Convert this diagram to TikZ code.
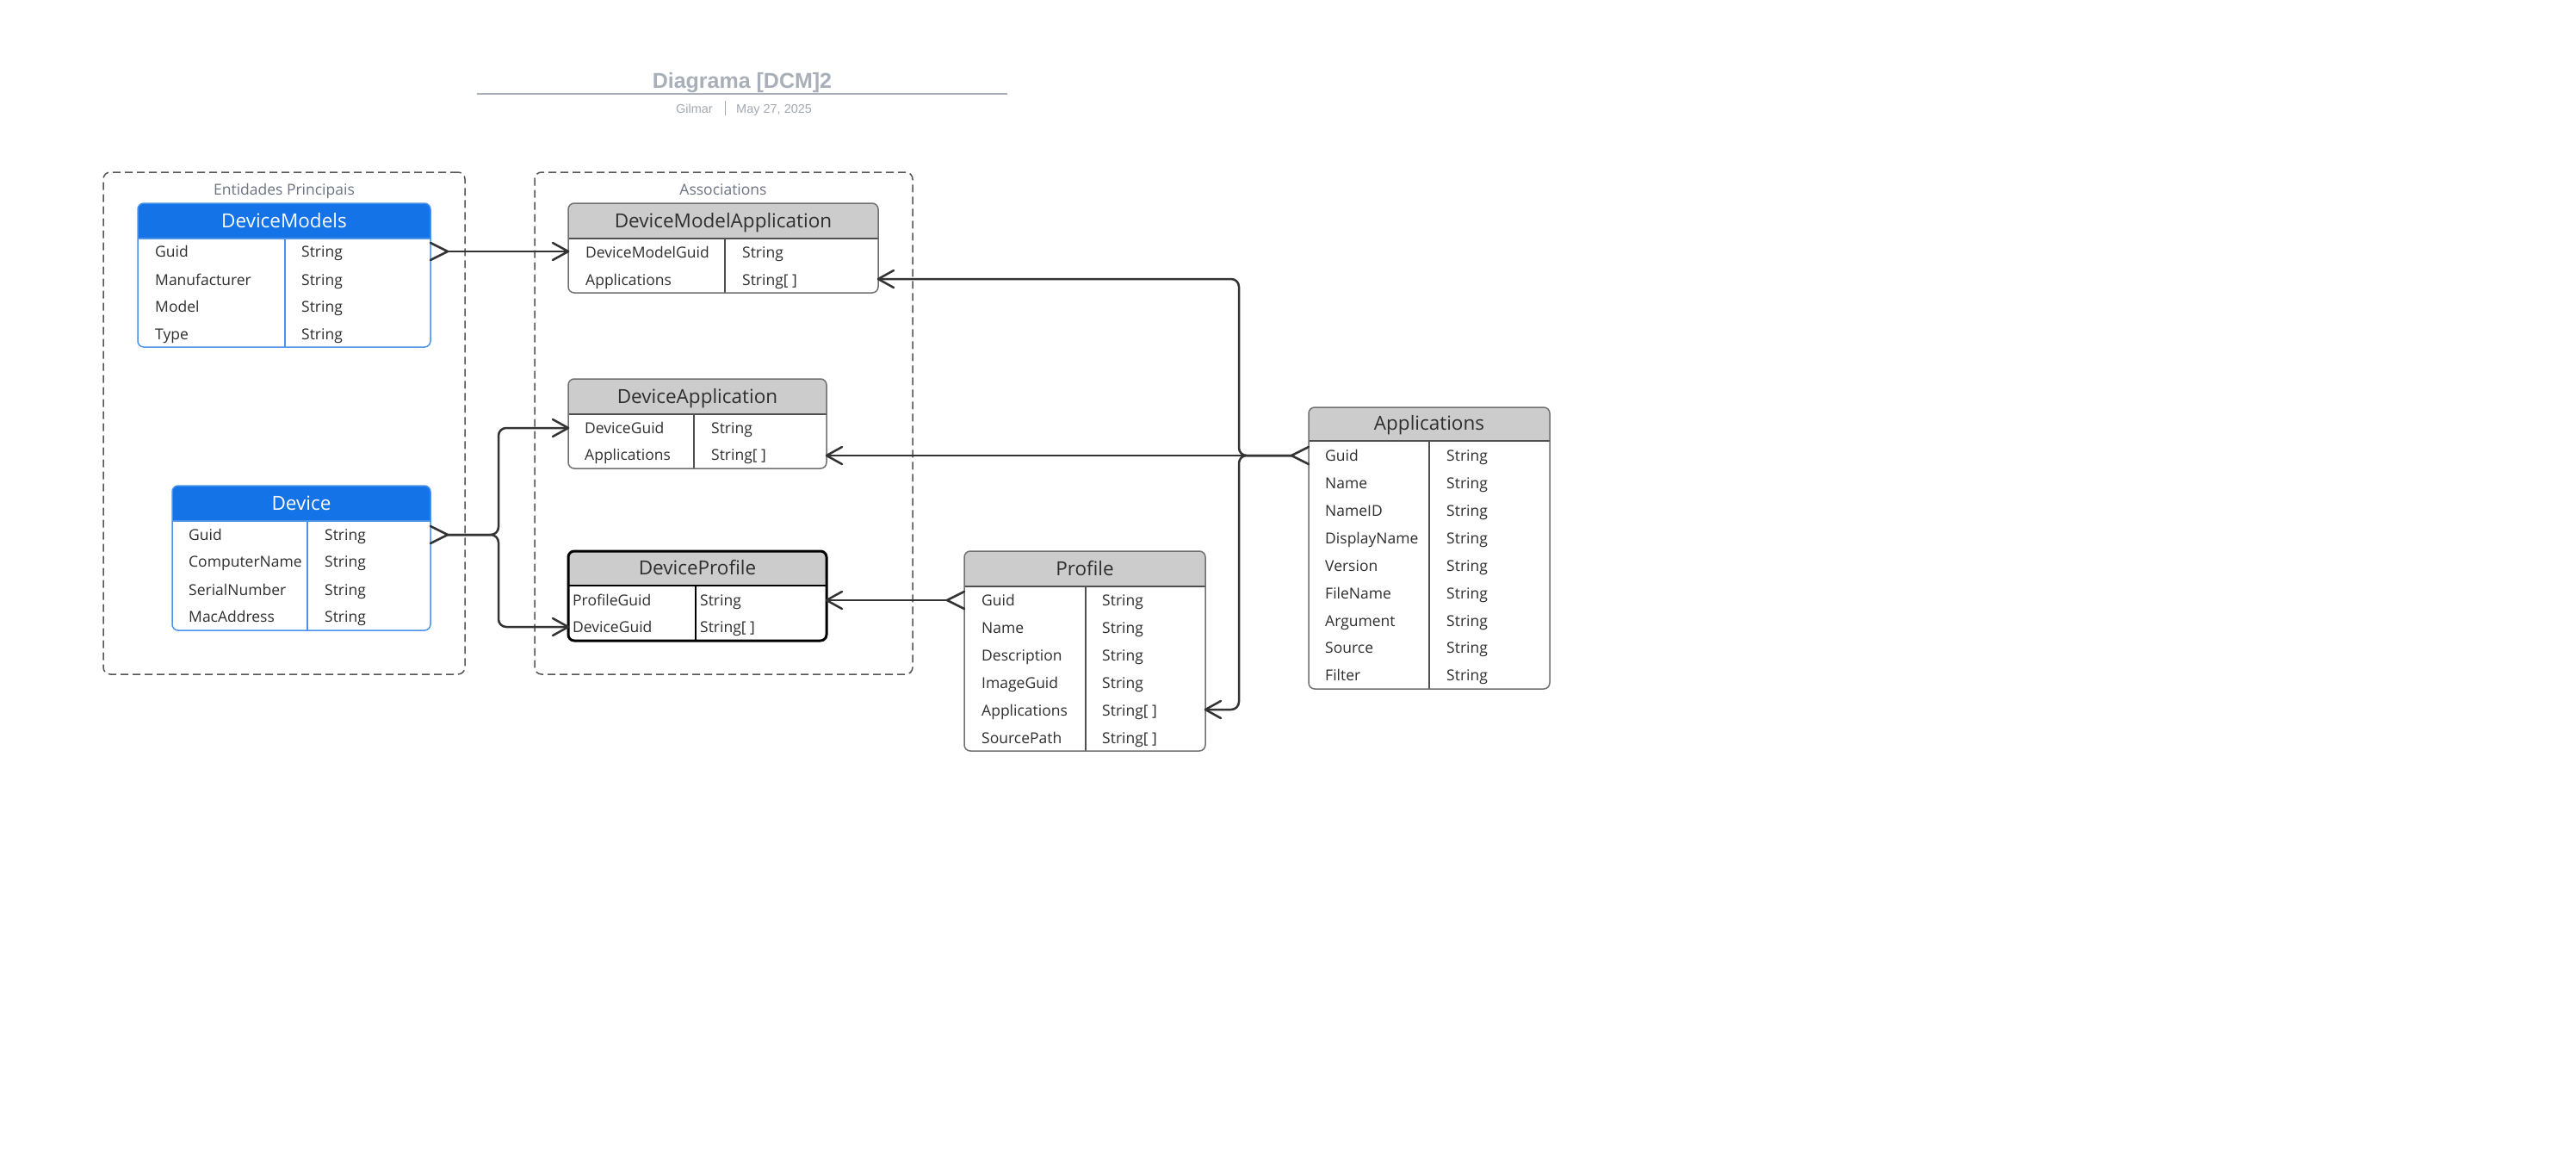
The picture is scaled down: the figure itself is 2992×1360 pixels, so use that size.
\documentclass[tikz,border=0pt]{standalone}
\usepackage{fontspec}
\setmainfont{Open Sans}
\newfontfamily\titlefont{Liberation Sans}
\usetikzlibrary{calc}

\definecolor{headblue}{HTML}{1473E6}
\definecolor{edgeblue}{HTML}{4A92EA}
\definecolor{headgray}{HTML}{CCCCCC}
\definecolor{edgegray}{HTML}{707070}
\definecolor{rulegray}{HTML}{505050}
\definecolor{inkdark}{HTML}{2E2E2E}
\definecolor{connc}{HTML}{333333}
\definecolor{framec}{HTML}{555555}
\definecolor{labelc}{HTML}{6B7280}
\definecolor{titlegray}{HTML}{A9AFB9}
\definecolor{subgray}{HTML}{A3A9B3}

% one entity table: header band, column rule, outline and title
% #1 name, #2 kind, #3 title, #4 left, #5 top, #6 right, #7 header bottom, #8 bottom, #9 column rule x
\newcommand\ertable[9]{%
  \begin{scope}
    \clip (#4,#5) rectangle (#6,#7);
    \fill[#2 head, rounded corners=7] (#4,#5) rectangle (#6,#8);
  \end{scope}
  \draw[#2 rule] (#4,#7) -- (#6,#7);
  \draw[#2 rule] (#9,#7) -- (#9,#8);
  \node[#2 border, rounded corners=7, inner sep=0, outer sep=0, anchor=north west,
        minimum width={#6-#4}, minimum height={#8-#5}] (#1) at (#4,#5) {};
  \node[headtext, #2 title, anchor=base] (#1-title) at ({(#4+#6)/2},{#7-12.5}) {#3};
}
% one attribute row: #1 name, #2 key x, #3 type x, #4 baseline, #5 key, #6 type
\newcommand\erfield[6]{%
  \node[fieldtext, anchor=base west] (#1-k) at (#2,#4) {#5};
  \node[fieldtext, anchor=base west] (#1-v) at (#3,#4) {#6};
}
% connector end marks
\newcommand\tipright[1]{\draw[conn] (#1) ++(-18,-10) -- ++(18,10) -- ++(-18,10);}
\newcommand\tipleft[1]{\draw[conn] (#1) ++(18,-10) -- ++(-18,10) -- ++(18,10);}
\newcommand\manyright[1]{\draw[conn] (#1) ++(0,-10) -- ++(20,10) -- ++(-20,10);}
\newcommand\manyleft[1]{\draw[conn] (#1) ++(0,-10) -- ++(-20,10) -- ++(20,10);}

\begin{document}
\begin{tikzpicture}[x=1pt,y=-1pt,
  blue head/.style={fill=headblue},
  blue rule/.style={draw=edgeblue, line width=1.5},
  blue border/.style={draw=edgeblue, line width=1.5},
  blue title/.style={text=white},
  gray head/.style={fill=headgray},
  gray rule/.style={draw=rulegray, line width=1.5},
  gray border/.style={draw=edgegray, line width=1.5},
  gray title/.style={text=inkdark},
  bold head/.style={fill=headgray},
  bold rule/.style={draw=black, line width=2.5},
  bold border/.style={draw=black, line width=3},
  bold title/.style={text=inkdark},
  headtext/.style={inner sep=0, font=\fontsize{22.5}{27}\selectfont},
  fieldtext/.style={inner sep=0, text=inkdark, font=\fontsize{17.5}{21}\selectfont},
  frame/.style={draw=framec, line width=1.5, dash pattern=on 9pt off 5pt, rounded corners=8,
                inner sep=0, outer sep=0, anchor=north west},
  grouplabel/.style={inner sep=0, anchor=base, text=labelc, font=\fontsize{17.5}{21}\selectfont},
  conn/.style={draw=connc, line width=2.5, line cap=round, line join=round},
]
\fill[white] (0,0) rectangle (2992,1360);
\useasboundingbox (0,0) rectangle (2992,1360);

% heading
\node[inner sep=0, anchor=base, text=titlegray, font=\titlefont\bfseries\fontsize{25}{30}\selectfont]
  (title) at (862,102) {Diagrama [DCM]2};
\draw[titlegray, line width=2] (554,109) -- (1170,109);
\node[inner sep=0, anchor=base east, text=subgray, font=\titlefont\fontsize{14.5}{17}\selectfont]
  (author) at (828,131) {Gilmar};
\draw[subgray, line width=1] (842,117) -- (842,134);
\node[inner sep=0, anchor=base west, text=subgray, font=\titlefont\fontsize{14.5}{17}\selectfont]
  (date) at (855,131) {May 27, 2025};

% groups
\node[frame, minimum width=420, minimum height=583] (grpMain) at (120,200) {};
\node[grouplabel] (grpMainLbl) at (330,226) {Entidades Principais};
\node[frame, minimum width=439, minimum height=583] (grpAssoc) at (621,200) {};
\node[grouplabel] (grpAssocLbl) at (840,226) {Associations};

% DeviceModels
\ertable{dm}{blue}{DeviceModels}{160}{236}{500}{277}{403}{331}
\erfield{dm1}{180}{350}{298}{Guid}{String}
\erfield{dm2}{180}{350}{331}{Manufacturer}{String}
\erfield{dm3}{180}{350}{362}{Model}{String}
\erfield{dm4}{180}{350}{394}{Type}{String}

% Device
\ertable{dev}{blue}{Device}{200}{564}{500}{605}{732}{357}
\erfield{dev1}{219}{377}{627}{Guid}{String}
\erfield{dev2}{219}{377}{658}{ComputerName}{String}
\erfield{dev3}{219}{377}{691}{SerialNumber}{String}
\erfield{dev4}{219}{377}{722}{MacAddress}{String}

% DeviceModelApplication
\ertable{dma}{gray}{DeviceModelApplication}{660}{236}{1020}{277}{340}{842}
\erfield{dma1}{680}{862}{299}{DeviceModelGuid}{String}
\erfield{dma2}{680}{862}{331}{Applications}{String[ ]}

% DeviceApplication
\ertable{da}{gray}{DeviceApplication}{660}{440}{960}{481}{544}{806}
\erfield{da1}{679}{826}{503}{DeviceGuid}{String}
\erfield{da2}{679}{826}{534}{Applications}{String[ ]}

% DeviceProfile
\ertable{dp}{bold}{DeviceProfile}{660}{640}{960}{680}{744}{808}
\erfield{dp1}{665}{813}{703}{ProfileGuid}{String}
\erfield{dp2}{665}{813}{734}{DeviceGuid}{String[ ]}

% Profile
\ertable{prof}{gray}{Profile}{1120}{640}{1400}{681}{872}{1261}
\erfield{pr1}{1140}{1280}{703}{Guid}{String}
\erfield{pr2}{1140}{1280}{735.5}{Name}{String}
\erfield{pr3}{1140}{1280}{767.5}{Description}{String}
\erfield{pr4}{1140}{1280}{799}{ImageGuid}{String}
\erfield{pr5}{1140}{1280}{831}{Applications}{String[ ]}
\erfield{pr6}{1140}{1280}{863}{SourcePath}{String[ ]}

% Applications
\ertable{apps}{gray}{Applications}{1520}{473}{1800}{512}{800}{1660}
\erfield{ap1}{1539}{1680}{535}{Guid}{String}
\erfield{ap2}{1539}{1680}{567}{Name}{String}
\erfield{ap3}{1539}{1680}{599}{NameID}{String}
\erfield{ap4}{1539}{1680}{631}{DisplayName}{String}
\erfield{ap5}{1539}{1680}{663}{Version}{String}
\erfield{ap6}{1539}{1680}{695}{FileName}{String}
\erfield{ap7}{1539}{1680}{727}{Argument}{String}
\erfield{ap8}{1539}{1680}{758.5}{Source}{String}
\erfield{ap9}{1539}{1680}{790}{Filter}{String}

% DeviceModels -> DeviceModelApplication
\coordinate (dmOut) at (dm.east |- 0,292);
\coordinate (dmaIn) at (dma.west |- 0,292);
\draw[conn] ($(dmOut)+(20,0)$) -- (dmaIn);
\manyright{dmOut}
\tipright{dmaIn}

% Device -> DeviceApplication, DeviceProfile
\coordinate (devOut) at (dev.east |- 0,621);
\coordinate (devFork) at (579,621);
\coordinate (daIn) at (da.west |- 0,497);
\coordinate (dpIn) at (dp.west |- 0,728);
\draw[conn, rounded corners=9] ($(devOut)+(20,0)$) -- (devFork) |- (daIn);
\draw[conn, rounded corners=9] ($(devOut)+(20,0)$) -- (devFork) |- (dpIn);
\manyright{devOut}
\tipright{daIn}
\tipright{dpIn}

% Applications -> DeviceModelApplication, DeviceApplication, Profile
\coordinate (appOut) at (apps.west |- 0,529);
\coordinate (appFork) at (1439,529);
\coordinate (dmaApp) at (dma.east |- 0,324);
\coordinate (daApp) at (da.east |- 0,529);
\coordinate (prApp) at (prof.east |- 0,824);
\draw[conn] ($(appOut)+(-20,0)$) -- (daApp);
\draw[conn, rounded corners=9] ($(appOut)+(-20,0)$) -- (appFork) |- (dmaApp);
\draw[conn, rounded corners=9] ($(appOut)+(-20,0)$) -- (appFork) |- (prApp);
\manyleft{appOut}
\tipleft{dmaApp}
\tipleft{daApp}
\tipleft{prApp}

% Profile -> DeviceProfile
\coordinate (prOut) at (prof.west |- 0,697);
\coordinate (dpApp) at (dp.east |- 0,697);
\draw[conn] ($(prOut)+(-20,0)$) -- (dpApp);
\manyleft{prOut}
\tipleft{dpApp}
\end{tikzpicture}
\end{document}
